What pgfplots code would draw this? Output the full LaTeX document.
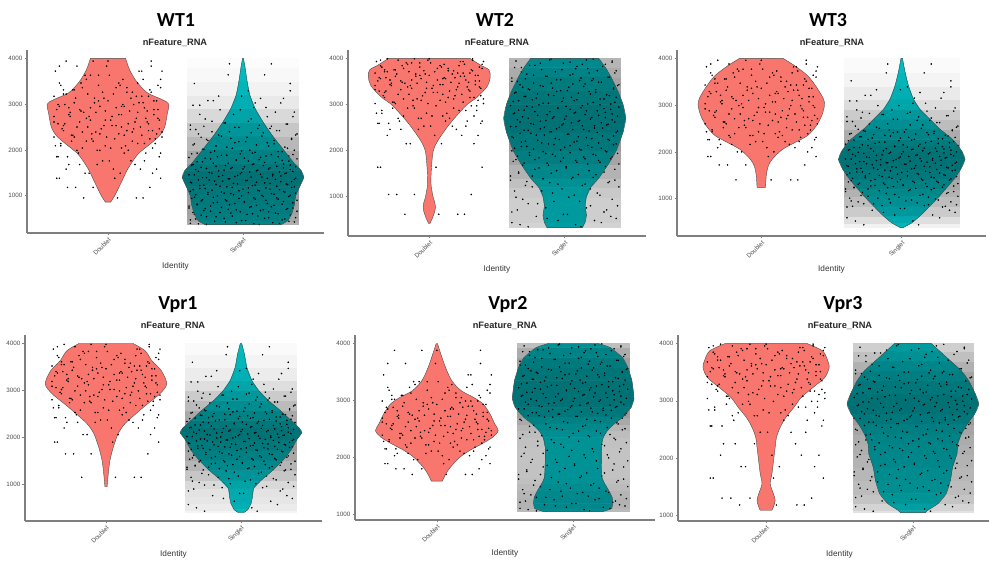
\documentclass[border=0pt]{standalone}
\usepackage{fontspec}
\setmainfont{Liberation Sans}
\newfontfamily\titlefont{Carlito}
\usepackage{pgfplots}
\usepackage{pgfplotstable}
\pgfplotsset{compat=1.18}
\usepgfplotslibrary{fillbetween}

\definecolor{dbl}{HTML}{F8766D}
\definecolor{sgl}{HTML}{00BFC4}
\definecolor{axgray}{HTML}{7F7F7F}
\definecolor{lblgray}{HTML}{4D4D4D}

% violin outlines: y, half width (x units)
\pgfplotstableread{
y w
860 0.02
1000 0.05
1300 0.10
1600 0.15
1900 0.22
2100 0.30
2300 0.38
2500 0.42
2800 0.44
3000 0.45
3100 0.40
3250 0.29
3500 0.21
3750 0.16
4000 0.13
}\vDa
\pgfplotstableread{
y w
366 0.28
450 0.33
600 0.36
800 0.38
1000 0.39
1200 0.42
1400 0.45
1550 0.43
1700 0.38
2000 0.30
2300 0.22
2600 0.15
2900 0.09
3200 0.05
3500 0.03
3800 0.015
4000 0.003
}\vSa
\pgfplotstableread{
y w
420 0.005
550 0.025
700 0.042
800 0.045
900 0.038
1000 0.028
1300 0.012
1700 0.018
2000 0.03
2200 0.06
2500 0.13
2750 0.20
3000 0.28
3150 0.35
3400 0.43
3600 0.45
3750 0.44
3850 0.38
4000 0.30
}\vDb
\pgfplotstableread{
y w
330 0.13
450 0.15
600 0.16
800 0.15
1000 0.16
1200 0.19
1400 0.25
1700 0.32
2000 0.38
2400 0.43
2700 0.45
3000 0.43
3300 0.39
3600 0.34
3800 0.30
4000 0.25
}\vSb
\pgfplotstableread{
y w
1240 0.03
1500 0.036
1700 0.05
1850 0.08
2050 0.15
2200 0.24
2350 0.33
2550 0.39
2770 0.43
3000 0.45
3150 0.44
3400 0.39
3630 0.33
3840 0.24
4000 0.155
}\vDc
\pgfplotstableread{
y w
380 0.01
480 0.07
630 0.13
840 0.20
1060 0.27
1200 0.31
1410 0.37
1630 0.42
1840 0.45
2000 0.43
2130 0.40
2270 0.36
2490 0.27
2700 0.20
2910 0.13
3130 0.083
3410 0.048
3700 0.024
4000 0.005
}\vSc
\pgfplotstableread{
y w
950 0.008
1230 0.017
1520 0.03
1800 0.055
2080 0.09
2290 0.14
2500 0.22
2720 0.31
2930 0.40
3140 0.45
3420 0.41
3630 0.34
3845 0.29
4000 0.20
}\vDd
\pgfplotstableread{
y w
400 0.02
460 0.05
600 0.075
740 0.085
915 0.093
1090 0.15
1300 0.235
1515 0.31
1730 0.37
1940 0.41
2100 0.45
2200 0.43
2360 0.37
2575 0.29
2790 0.20
3000 0.13
3210 0.08
3490 0.043
3775 0.025
4000 0.005
}\vSd
\pgfplotstableread{
y w
1583 0.04
1712 0.067
1828 0.10
2004 0.17
2120 0.24
2237 0.33
2354 0.41
2470 0.45
2587 0.425
2762 0.39
2937 0.34
3054 0.27
3170 0.18
3346 0.11
3580 0.064
3813 0.03
4000 0.005
}\vDe
\pgfplotstableread{
y w
1052 0.22
1100 0.28
1190 0.29
1300 0.285
1420 0.26
1540 0.23
1650 0.21
1900 0.205
2180 0.205
2350 0.22
2470 0.25
2590 0.30
2700 0.36
2880 0.425
3025 0.445
3110 0.443
3350 0.43
3580 0.40
3755 0.36
3930 0.27
4000 0.18
}\vSe
\pgfplotstableread{
y w
1087 0.04
1145 0.05
1261 0.062
1377 0.05
1551 0.028
1725 0.04
1957 0.051
2189 0.062
2363 0.071
2537 0.096
2712 0.135
2886 0.19
3060 0.24
3234 0.32
3408 0.40
3582 0.43
3698 0.42
3872 0.385
4000 0.28
}\vDf
\pgfplotstableread{
y w
1046 0.085
1087 0.10
1203 0.17
1377 0.226
1609 0.255
1841 0.27
2073 0.30
2247 0.305
2421 0.33
2595 0.37
2770 0.42
2944 0.448
3118 0.425
3350 0.38
3524 0.33
3698 0.255
3872 0.18
4000 0.125
}\vSf

% both sides of each singlet violin, for the density shading
\pgfplotstablevertcat{\mSa}{\vSa}\pgfplotstablevertcat{\mSa}{\vSa}
\pgfplotstablevertcat{\mSb}{\vSb}\pgfplotstablevertcat{\mSb}{\vSb}
\pgfplotstablevertcat{\mSc}{\vSc}\pgfplotstablevertcat{\mSc}{\vSc}
\pgfplotstablevertcat{\mSd}{\vSd}\pgfplotstablevertcat{\mSd}{\vSd}
\pgfplotstablevertcat{\mSe}{\vSe}\pgfplotstablevertcat{\mSe}{\vSe}
\pgfplotstablevertcat{\mSf}{\vSf}\pgfplotstablevertcat{\mSf}{\vSf}
\pgfplotstablegetrowsof{\vSa}\edef\nSa{\pgfplotsretval}
\pgfplotstablegetrowsof{\vSb}\edef\nSb{\pgfplotsretval}
\pgfplotstablegetrowsof{\vSc}\edef\nSc{\pgfplotsretval}
\pgfplotstablegetrowsof{\vSd}\edef\nSd{\pgfplotsretval}
\pgfplotstablegetrowsof{\vSe}\edef\nSe{\pgfplotsretval}
\pgfplotstablegetrowsof{\vSf}\edef\nSf{\pgfplotsretval}

% horizontal jitter offsets
\pgfplotstableread[row sep=\\]{jx\\
0.21\\-0.30\\0.05\\-0.17\\0.36\\-0.08\\0.27\\-0.38\\0.12\\-0.23\\
0.33\\-0.02\\-0.35\\0.18\\-0.12\\0.40\\-0.26\\0.08\\-0.19\\0.30\\
-0.05\\0.24\\-0.33\\0.15\\-0.40\\0.02\\0.37\\-0.14\\0.10\\-0.28\\
0.29\\-0.21\\0.06\\-0.36\\0.19\\-0.10\\0.34\\-0.03\\0.25\\-0.31\\
0.14\\-0.25\\0.39\\-0.07\\0.22\\-0.16\\0.01\\-0.39\\0.32\\-0.11\\
}\jxD
\pgfplotstableread[row sep=\\]{jx\\
-0.18\\0.31\\-0.36\\0.09\\0.24\\-0.29\\-0.04\\0.38\\-0.22\\0.15\\
0.02\\-0.39\\0.27\\-0.11\\0.35\\-0.25\\0.12\\-0.06\\0.40\\-0.33\\
0.19\\-0.15\\0.06\\-0.37\\0.29\\-0.02\\0.21\\-0.28\\0.34\\-0.09\\
-0.20\\0.37\\-0.13\\0.10\\-0.32\\0.26\\-0.07\\0.17\\-0.40\\0.04\\
0.32\\-0.26\\0.14\\-0.35\\0.08\\0.39\\-0.17\\0.23\\-0.01\\-0.31\\
}\jxDb
\pgfplotstableread[row sep=\\]{jx\\
0.07\\-0.24\\0.39\\-0.14\\-0.31\\0.20\\0.01\\-0.37\\0.28\\-0.08\\
-0.19\\0.13\\0.35\\-0.27\\0.05\\-0.40\\0.25\\-0.12\\0.18\\0.33\\
-0.34\\0.10\\-0.03\\0.30\\-0.21\\0.38\\-0.16\\0.03\\-0.29\\0.22\\
0.16\\-0.38\\0.27\\-0.06\\0.11\\-0.25\\0.36\\-0.10\\0.21\\-0.33\\
-0.04\\0.31\\-0.19\\0.09\\-0.36\\0.26\\-0.13\\0.40\\-0.23\\0.00\\
}\jxDc
\pgfplotstableread[row sep=\\]{jx\\
0.26\\-0.11\\-0.38\\0.33\\0.04\\-0.21\\0.17\\-0.30\\0.39\\-0.06\\
0.10\\-0.35\\0.22\\-0.16\\0.31\\-0.01\\-0.27\\0.36\\-0.09\\0.14\\
0.38\\-0.23\\0.03\\-0.32\\0.20\\-0.13\\0.28\\-0.40\\0.08\\-0.18\\
-0.02\\0.34\\-0.29\\0.12\\-0.37\\0.23\\0.00\\-0.24\\0.30\\-0.15\\
0.18\\-0.33\\0.06\\0.37\\-0.20\\0.11\\-0.07\\0.25\\-0.36\\0.32\\
}\jxDd
\pgfplotstableread[row sep=\\]{jx\\
0.12\\-0.33\\0.27\\-0.05\\0.38\\-0.21\\0.02\\-0.39\\0.31\\-0.14\\
0.19\\-0.27\\-0.08\\0.35\\-0.36\\0.07\\0.24\\-0.17\\-0.02\\0.40\\
-0.29\\0.15\\-0.11\\0.33\\-0.40\\0.05\\0.21\\-0.24\\0.10\\-0.34\\
0.29\\-0.06\\0.37\\-0.19\\0.01\\-0.31\\0.17\\-0.13\\0.26\\-0.38\\
0.08\\-0.22\\0.34\\-0.01\\0.14\\-0.35\\0.23\\-0.09\\0.39\\-0.26\\
-0.16\\0.30\\-0.03\\0.11\\-0.37\\0.20\\-0.28\\0.04\\0.36\\-0.12\\
0.25\\-0.32\\0.09\\-0.20\\0.32\\-0.07\\0.16\\-0.39\\0.28\\-0.15\\
0.03\\-0.25\\0.38\\-0.10\\0.18\\-0.30\\0.06\\-0.18\\0.22\\-0.04\\
-0.36\\0.13\\0.31\\-0.23\\-0.01\\0.27\\-0.33\\0.10\\-0.14\\0.35\\
0.00\\-0.27\\0.20\\-0.08\\0.39\\-0.20\\0.15\\-0.38\\0.07\\0.30\\
-0.11\\0.24\\-0.30\\0.34\\-0.05\\0.12\\-0.24\\0.01\\-0.40\\0.26\\
0.17\\-0.16\\0.37\\-0.02\\-0.34\\0.09\\0.29\\-0.21\\0.05\\-0.29\\
0.33\\-0.12\\0.19\\-0.37\\0.23\\-0.06\\0.02\\-0.26\\0.36\\-0.09\\
-0.31\\0.14\\-0.18\\0.40\\0.06\\-0.23\\0.25\\-0.35\\0.11\\-0.03\\
0.21\\-0.39\\0.32\\-0.13\\0.04\\-0.28\\0.18\\-0.07\\0.38\\-0.17\\
0.08\\-0.32\\0.28\\-0.22\\0.13\\-0.01\\0.35\\-0.36\\0.16\\-0.10\\
}\jxS
\pgfplotstableread[row sep=\\]{jx\\
-0.27\\0.08\\-0.39\\0.22\\-0.13\\0.34\\-0.01\\0.29\\-0.35\\0.16\\
0.39\\-0.20\\0.11\\-0.31\\0.03\\0.26\\-0.09\\-0.37\\0.19\\-0.24\\
0.13\\-0.05\\0.32\\-0.28\\0.37\\-0.16\\0.06\\-0.40\\0.23\\-0.10\\
-0.34\\0.18\\-0.22\\0.01\\0.30\\-0.12\\0.40\\-0.30\\0.09\\-0.03\\
0.25\\-0.36\\0.15\\-0.19\\0.35\\-0.07\\-0.26\\0.21\\-0.14\\0.04\\
0.31\\-0.39\\0.12\\-0.23\\0.27\\0.00\\-0.32\\0.17\\-0.08\\0.38\\
-0.17\\0.07\\-0.29\\0.33\\-0.04\\0.20\\-0.38\\0.10\\0.36\\-0.21\\
0.02\\-0.33\\0.24\\-0.11\\0.39\\-0.27\\0.14\\-0.06\\0.28\\-0.15\\
-0.40\\0.22\\-0.02\\0.32\\-0.25\\0.05\\0.37\\-0.18\\0.11\\-0.35\\
0.19\\-0.09\\0.30\\-0.31\\0.01\\0.25\\-0.13\\0.35\\-0.37\\0.08\\
-0.22\\0.16\\-0.34\\0.04\\0.29\\-0.05\\0.40\\-0.28\\0.13\\-0.19\\
0.34\\-0.12\\0.21\\-0.38\\0.07\\-0.24\\0.26\\-0.01\\0.38\\-0.30\\
-0.08\\0.31\\-0.20\\0.10\\-0.36\\0.18\\-0.03\\0.23\\-0.27\\0.36\\
0.03\\-0.16\\0.39\\-0.33\\0.15\\-0.10\\0.27\\-0.39\\0.20\\-0.06\\
-0.29\\0.12\\0.33\\-0.14\\-0.23\\0.06\\0.37\\-0.32\\0.24\\-0.02\\
0.17\\-0.37\\0.09\\-0.26\\0.30\\-0.18\\0.04\\0.35\\-0.11\\0.21\\
}\jxSb

% nFeature values of the jittered cells
\pgfplotstableread[row sep=\\]{y\\
950\\1180\\1380\\1490\\1580\\1680\\1760\\1850\\1930\\1990\\
2040\\2090\\2140\\2190\\2240\\2280\\2320\\2350\\2390\\2420\\
2460\\2500\\2530\\2570\\2610\\2650\\2690\\2730\\2770\\2820\\
2850\\2880\\2920\\2950\\2990\\3030\\3070\\3130\\3170\\3220\\
3260\\3310\\3360\\3410\\3460\\3540\\3630\\3720\\3830\\3940\\
}\pDa
\pgfplotstableread[row sep=\\]{y\\
620\\1050\\1640\\2150\\2330\\2460\\2530\\2590\\2640\\2700\\
2750\\2810\\2870\\2920\\2970\\3020\\3050\\3090\\3120\\3150\\
3190\\3220\\3260\\3290\\3320\\3350\\3380\\3410\\3430\\3460\\
3480\\3510\\3530\\3560\\3580\\3610\\3630\\3660\\3680\\3710\\
3730\\3750\\3780\\3810\\3840\\3870\\3900\\3930\\3960\\3990\\
}\pDb
\pgfplotstableread[row sep=\\]{y\\
1400\\1720\\1900\\2000\\2090\\2160\\2220\\2260\\2310\\2350\\
2390\\2430\\2470\\2520\\2570\\2600\\2640\\2670\\2710\\2740\\
2780\\2810\\2850\\2880\\2920\\2950\\2990\\3030\\3070\\3100\\
3140\\3180\\3210\\3250\\3290\\3320\\3360\\3390\\3430\\3470\\
3510\\3560\\3600\\3640\\3690\\3730\\3770\\3820\\3880\\3960\\
}\pDc
\pgfplotstableread[row sep=\\]{y\\
1150\\1650\\1900\\2060\\2200\\2320\\2370\\2420\\2480\\2530\\
2580\\2630\\2680\\2740\\2770\\2800\\2830\\2870\\2900\\2930\\
2960\\2990\\3020\\3060\\3090\\3120\\3160\\3190\\3220\\3250\\
3280\\3310\\3340\\3370\\3400\\3430\\3460\\3490\\3520\\3550\\
3580\\3610\\3660\\3700\\3740\\3790\\3830\\3880\\3930\\3980\\
}\pDd
\pgfplotstableread[row sep=\\]{y\\
1700\\1800\\1890\\1960\\2030\\2070\\2110\\2150\\2180\\2220\\
2250\\2280\\2310\\2340\\2370\\2390\\2420\\2440\\2470\\2490\\
2510\\2540\\2560\\2590\\2620\\2640\\2670\\2690\\2720\\2740\\
2760\\2790\\2820\\2850\\2880\\2900\\2930\\2960\\2990\\3020\\
3050\\3090\\3130\\3180\\3230\\3280\\3330\\3450\\3650\\3880\\
}\pDe
\pgfplotstableread[row sep=\\]{y\\
1180\\1300\\1650\\1850\\2050\\2250\\2450\\2560\\2660\\2740\\
2790\\2840\\2890\\2940\\2990\\3040\\3080\\3110\\3140\\3170\\
3200\\3230\\3260\\3290\\3320\\3350\\3380\\3420\\3440\\3470\\
3490\\3510\\3540\\3560\\3580\\3610\\3630\\3650\\3680\\3710\\
3740\\3770\\3790\\3820\\3850\\3880\\3910\\3930\\3960\\3990\\
}\pDf

\pgfplotstableread[row sep=\\]{y\\
370\\385\\395\\410\\425\\440\\455\\470\\490\\505\\
520\\540\\555\\575\\590\\605\\620\\632\\648\\660\\
675\\690\\702\\718\\730\\745\\760\\772\\788\\800\\
815\\828\\842\\855\\870\\884\\898\\910\\925\\940\\
952\\965\\980\\993\\1005\\1018\\1030\\1043\\1055\\1068\\
1080\\1093\\1105\\1118\\1130\\1143\\1155\\1168\\1180\\1193\\
1205\\1218\\1230\\1243\\1255\\1268\\1280\\1293\\1305\\1318\\
1330\\1343\\1355\\1368\\1380\\1393\\1406\\1418\\1431\\1443\\
1456\\1468\\1481\\1493\\1506\\1518\\1531\\1543\\1556\\1568\\
1581\\1593\\1606\\1618\\1631\\1643\\1656\\1668\\1681\\1693\\
1708\\1724\\1740\\1755\\1771\\1787\\1803\\1819\\1834\\1850\\
1866\\1882\\1898\\1913\\1929\\1945\\1961\\1977\\1992\\2012\\
2036\\2060\\2084\\2108\\2132\\2156\\2180\\2204\\2228\\2252\\
2276\\2300\\2324\\2348\\2372\\2396\\2420\\2444\\2468\\2492\\
2516\\2540\\2564\\2588\\2625\\2675\\2725\\2775\\2825\\2875\\
2925\\2975\\3025\\3075\\3125\\3175\\3290\\3450\\3640\\3880\\
}\pSa
\pgfplotstableread[row sep=\\]{y\\
350\\395\\440\\485\\530\\575\\620\\670\\715\\760\\
805\\850\\900\\945\\990\\1035\\1080\\1125\\1170\\1215\\
1245\\1275\\1305\\1330\\1360\\1390\\1420\\1450\\1480\\1510\\
1535\\1565\\1595\\1625\\1655\\1685\\1710\\1729\\1748\\1767\\
1786\\1805\\1824\\1843\\1862\\1881\\1900\\1919\\1938\\1957\\
1976\\1995\\2014\\2033\\2052\\2071\\2090\\2109\\2128\\2147\\
2166\\2185\\2204\\2223\\2242\\2261\\2280\\2299\\2318\\2337\\
2356\\2375\\2394\\2408\\2424\\2440\\2457\\2473\\2489\\2505\\
2521\\2538\\2554\\2570\\2586\\2602\\2619\\2635\\2651\\2667\\
2683\\2700\\2716\\2732\\2748\\2764\\2781\\2797\\2813\\2829\\
2845\\2862\\2878\\2894\\2910\\2926\\2943\\2959\\2975\\2991\\
3009\\3027\\3045\\3064\\3082\\3100\\3118\\3136\\3155\\3173\\
3191\\3209\\3227\\3245\\3264\\3282\\3300\\3318\\3336\\3355\\
3373\\3391\\3409\\3427\\3445\\3464\\3482\\3500\\3518\\3536\\
3555\\3573\\3591\\3612\\3635\\3659\\3682\\3706\\3729\\3753\\
3776\\3800\\3823\\3847\\3870\\3894\\3917\\3941\\3964\\3988\\
}\pSb
\pgfplotstableread[row sep=\\]{y\\
440\\520\\590\\650\\705\\750\\790\\820\\835\\850\\
870\\890\\910\\930\\950\\970\\990\\1010\\1030\\1050\\
1070\\1090\\1110\\1130\\1150\\1170\\1190\\1206\\1219\\1232\\
1244\\1257\\1270\\1282\\1295\\1307\\1320\\1333\\1345\\1358\\
1370\\1383\\1396\\1408\\1421\\1434\\1446\\1459\\1471\\1484\\
1497\\1509\\1522\\1534\\1547\\1560\\1572\\1585\\1597\\1610\\
1623\\1636\\1647\\1658\\1669\\1680\\1691\\1702\\1713\\1724\\
1736\\1747\\1758\\1769\\1780\\1791\\1802\\1813\\1824\\1836\\
1847\\1858\\1869\\1880\\1891\\1902\\1913\\1924\\1936\\1947\\
1958\\1969\\1980\\1991\\2002\\2013\\2024\\2036\\2047\\2058\\
2069\\2080\\2091\\2102\\2113\\2124\\2137\\2151\\2166\\2180\\
2195\\2209\\2224\\2238\\2252\\2267\\2281\\2296\\2310\\2324\\
2339\\2353\\2368\\2382\\2396\\2411\\2425\\2440\\2454\\2468\\
2483\\2502\\2527\\2552\\2576\\2601\\2626\\2650\\2675\\2700\\
2724\\2749\\2774\\2798\\2823\\2848\\2872\\2897\\2940\\2990\\
3040\\3090\\3150\\3210\\3270\\3330\\3390\\3520\\3690\\3880\\
}\pSc
\pgfplotstableread[row sep=\\]{y\\
430\\500\\570\\640\\700\\760\\810\\860\\900\\930\\
958\\985\\1013\\1040\\1068\\1095\\1123\\1150\\1178\\1205\\
1233\\1260\\1288\\1307\\1321\\1336\\1350\\1364\\1379\\1393\\
1407\\1421\\1436\\1450\\1464\\1479\\1493\\1507\\1521\\1536\\
1550\\1564\\1579\\1593\\1607\\1621\\1636\\1650\\1664\\1679\\
1693\\1707\\1721\\1735\\1746\\1756\\1767\\1777\\1788\\1798\\
1809\\1819\\1830\\1840\\1851\\1861\\1872\\1882\\1893\\1903\\
1914\\1924\\1935\\1945\\1956\\1966\\1977\\1987\\1998\\2008\\
2019\\2029\\2040\\2050\\2061\\2071\\2082\\2092\\2103\\2113\\
2124\\2134\\2145\\2156\\2168\\2180\\2192\\2204\\2216\\2229\\
2241\\2253\\2265\\2277\\2289\\2301\\2313\\2325\\2338\\2350\\
2362\\2374\\2386\\2398\\2410\\2422\\2434\\2447\\2459\\2471\\
2483\\2495\\2507\\2519\\2531\\2543\\2556\\2568\\2585\\2606\\
2627\\2648\\2669\\2690\\2711\\2732\\2753\\2774\\2795\\2816\\
2837\\2858\\2879\\2900\\2921\\2942\\2963\\2984\\3030\\3080\\
3130\\3180\\3240\\3300\\3360\\3420\\3470\\3600\\3760\\3930\\
}\pSd
\pgfplotstableread[row sep=\\]{y\\
1060\\1082\\1104\\1125\\1147\\1168\\1190\\1212\\1233\\1255\\
1276\\1298\\1320\\1341\\1363\\1384\\1406\\1433\\1460\\1486\\
1513\\1540\\1566\\1593\\1619\\1646\\1673\\1699\\1726\\1752\\
1779\\1806\\1832\\1859\\1885\\1912\\1939\\1965\\1992\\2018\\
2045\\2072\\2098\\2125\\2151\\2178\\2205\\2231\\2258\\2284\\
2311\\2337\\2360\\2381\\2401\\2422\\2443\\2463\\2484\\2504\\
2525\\2546\\2566\\2587\\2607\\2628\\2649\\2669\\2690\\2707\\
2720\\2733\\2746\\2760\\2773\\2786\\2799\\2812\\2826\\2839\\
2852\\2865\\2878\\2892\\2905\\2918\\2931\\2944\\2958\\2971\\
2984\\2997\\3010\\3024\\3037\\3050\\3063\\3076\\3090\\3103\\
3117\\3130\\3144\\3157\\3171\\3184\\3198\\3211\\3224\\3238\\
3251\\3265\\3278\\3291\\3305\\3318\\3332\\3345\\3358\\3372\\
3385\\3399\\3412\\3426\\3439\\3452\\3466\\3479\\3493\\3506\\
3519\\3533\\3546\\3560\\3573\\3588\\3605\\3622\\3639\\3656\\
3672\\3689\\3706\\3723\\3740\\3756\\3773\\3790\\3807\\3824\\
3840\\3857\\3874\\3891\\3908\\3924\\3941\\3958\\3975\\3992\\
}\pSe
\pgfplotstableread[row sep=\\]{y\\
1070\\1110\\1150\\1185\\1220\\1250\\1280\\1310\\1335\\1360\\
1388\\1410\\1432\\1453\\1475\\1497\\1519\\1540\\1562\\1584\\
1606\\1627\\1649\\1671\\1693\\1714\\1736\\1758\\1780\\1801\\
1823\\1845\\1867\\1888\\1910\\1932\\1954\\1975\\1997\\2019\\
2041\\2062\\2081\\2098\\2115\\2132\\2149\\2166\\2182\\2199\\
2216\\2233\\2250\\2266\\2283\\2300\\2317\\2334\\2350\\2367\\
2384\\2401\\2418\\2434\\2451\\2468\\2485\\2502\\2518\\2535\\
2552\\2569\\2586\\2601\\2614\\2627\\2640\\2653\\2666\\2679\\
2692\\2705\\2719\\2732\\2745\\2758\\2771\\2784\\2797\\2810\\
2823\\2836\\2849\\2862\\2875\\2888\\2901\\2915\\2928\\2941\\
2954\\2967\\2980\\2993\\3006\\3019\\3032\\3045\\3058\\3071\\
3084\\3097\\3111\\3125\\3140\\3154\\3169\\3183\\3198\\3212\\
3227\\3241\\3256\\3270\\3285\\3299\\3314\\3328\\3343\\3357\\
3372\\3386\\3401\\3415\\3430\\3444\\3459\\3473\\3488\\3502\\
3517\\3536\\3561\\3586\\3611\\3636\\3661\\3686\\3711\\3736\\
3761\\3786\\3811\\3836\\3861\\3886\\3911\\3936\\3961\\3986\\
}\pSf

\newcommand{\jitD}[1]{%
  \pgfplotstablecreatecol[copy column from table={\jxD}{jx}]{jx}{#1}%
  \pgfplotstablecreatecol[copy column from table={\jxDb}{jx}]{jb}{#1}%
  \pgfplotstablecreatecol[copy column from table={\jxDc}{jx}]{jc}{#1}%
  \pgfplotstablecreatecol[copy column from table={\jxDd}{jx}]{jd}{#1}}
\newcommand{\jitS}[1]{%
  \pgfplotstablecreatecol[copy column from table={\jxS}{jx}]{jx}{#1}%
  \pgfplotstablecreatecol[copy column from table={\jxSb}{jx}]{jb}{#1}}
\jitD{\pDa}\jitD{\pDb}\jitD{\pDc}\jitD{\pDd}\jitD{\pDe}\jitD{\pDf}
\jitS{\pSa}\jitS{\pSb}\jitS{\pSc}\jitS{\pSd}\jitS{\pSe}\jitS{\pSf}

\pgfplotsset{
  vln/.style={
    scale only axis, set layers, anchor=south west,
    xmin=0.4, xmax=2.6,
    axis lines=left,
    axis line style={-, draw=axgray, line width=1.1bp},
    xtick={1,2}, xticklabels={Doublet,Singlet},
    ytick={1000,2000,3000,4000}, yticklabels={1000,2000,3000,4000},
    tick align=outside, major tick length=2.5bp,
    tick style={draw=axgray, line width=0.6bp},
    tick label style={font=\fontsize{6.3}{7}\selectfont, text=lblgray},
    xticklabel style={rotate=45, anchor=north east, inner sep=1bp},
    yticklabel style={inner sep=2bp},
    xlabel={Identity},
    x label style={at={(axis description cs:0.5,0)}, anchor=center,
      yshift=-33bp, font=\fontsize{8.3}{10}\selectfont, text=black!80},
    colormap={dens}{color(0cm)=(white) color(0.35cm)=(black!20)
      color(1cm)=(black!44) color(2cm)=(sgl) color(2.35cm)=(sgl!80!black)
      color(3cm)=(sgl!58!black)},
    point meta min=0, point meta max=3,
  },
  pts/.style={only marks, mark=*, mark size=0.55bp, color=black},
}
\tikzset{
  ttl/.style={font=\titlefont\bfseries\fontsize{20}{24}\selectfont},
  sub/.style={font=\bfseries\fontsize{9.3}{11}\selectfont, text=black!85},
}

% doublet violin at x=1: #1 outline table, #2 cells
\newcommand{\dviolin}[2]{%
  \addplot[name path=R1, draw=none, smooth] table[x expr=1+\thisrow{w}, y=y]{#1};
  \addplot[name path=L1, draw=none, smooth] table[x expr=1-\thisrow{w}, y=y]{#1};
  \addplot[fill=dbl, draw=black!70, line width=0.4bp] fill between[of=R1 and L1, reverse=true];
  \addplot[pts] table[x expr=1+\thisrow{jx}, y=y]{#2};
  \addplot[pts] table[x expr=1+\thisrow{jb}, y=y]{#2};
  \addplot[pts] table[x expr=1+\thisrow{jc}, y=y]{#2};
  \addplot[pts] table[x expr=1+\thisrow{jd}, y=y]{#2};
}
% singlet violin at x=2: #1 outline, #2 both sides, #3 rows per side, #4 cells
\newcommand{\sviolin}[4]{%
  \addplot[surf, shader=flat mean, mesh/rows=2, point meta={\thisrow{w}/0.46}]
    table[x expr={2+ifthenelse(\coordindex<#3,-0.41,0.41)}, y=y]{#2};
  \addplot[surf, shader=flat mean, mesh/rows=2, point meta={2+\thisrow{w}/0.46}]
    table[x expr={2+ifthenelse(\coordindex<#3,-1,1)*\thisrow{w}}, y=y]{#2};
  \addplot[name path=R2, draw=none, smooth] table[x expr=2+\thisrow{w}, y=y]{#1};
  \addplot[name path=L2, draw=none, smooth] table[x expr=2-\thisrow{w}, y=y]{#1};
  \addplot[fill=none, draw=black!70, line width=0.4bp]
    fill between[of=R2 and L2, reverse=true, on layer=axis foreground];
  \addplot[pts] table[x expr=2+\thisrow{jx}, y=y]{#4};
  \addplot[pts] table[x expr=2+\thisrow{jb}, y=y]{#4};
}

\begin{document}
\begin{tikzpicture}

\begin{axis}[vln, at={(27bp,328bp)}, width=297bp, height=183bp, ymin=184, ymax=4182]
\dviolin{\vDa}{\pDa}
\sviolin{\vSa}{\mSa}{\nSa}{\pSa}
\end{axis}

\begin{axis}[vln, at={(348bp,325bp)}, width=298bp, height=186bp, ymin=150, ymax=4180]
\dviolin{\vDb}{\pDb}
\sviolin{\vSb}{\mSb}{\nSb}{\pSb}
\end{axis}

\begin{axis}[vln, at={(677bp,325bp)}, width=309bp, height=186bp, ymin=200, ymax=4180]
\dviolin{\vDc}{\pDc}
\sviolin{\vSc}{\mSc}{\nSc}{\pSc}
\end{axis}

\begin{axis}[vln, at={(25bp,40bp)}, width=297bp, height=186bp, ymin=220, ymax=4180]
\dviolin{\vDd}{\pDd}
\sviolin{\vSd}{\mSd}{\nSd}{\pSd}
\end{axis}

\begin{axis}[vln, at={(355bp,41bp)}, width=300bp, height=185bp, ymin=900, ymax=4150]
\dviolin{\vDe}{\pDe}
\sviolin{\vSe}{\mSe}{\nSe}{\pSe}
\end{axis}

\begin{axis}[vln, at={(678bp,40bp)}, width=323bp, height=186bp, ymin=900, ymax=4150]
\dviolin{\vDf}{\pDf}
\sviolin{\vSf}{\mSf}{\nSf}{\pSf}
\end{axis}

\node[ttl] at (176bp,541bp) {WT1};
\node[sub] at (175bp,518bp) {nFeature\_RNA};
\node[ttl] at (495bp,541bp) {WT2};
\node[sub] at (497bp,518bp) {nFeature\_RNA};
\node[ttl] at (828bp,541bp) {WT3};
\node[sub] at (832bp,518bp) {nFeature\_RNA};
\node[ttl] at (178bp,256bp) {Vpr1};
\node[sub] at (173bp,235bp) {nFeature\_RNA};
\node[ttl] at (508bp,256bp) {Vpr2};
\node[sub] at (505bp,235bp) {nFeature\_RNA};
\node[ttl] at (843bp,256bp) {Vpr3};
\node[sub] at (840bp,235bp) {nFeature\_RNA};

\pgfresetboundingbox
\useasboundingbox (0,0) rectangle (989bp,561bp);
\end{tikzpicture}
\end{document}
